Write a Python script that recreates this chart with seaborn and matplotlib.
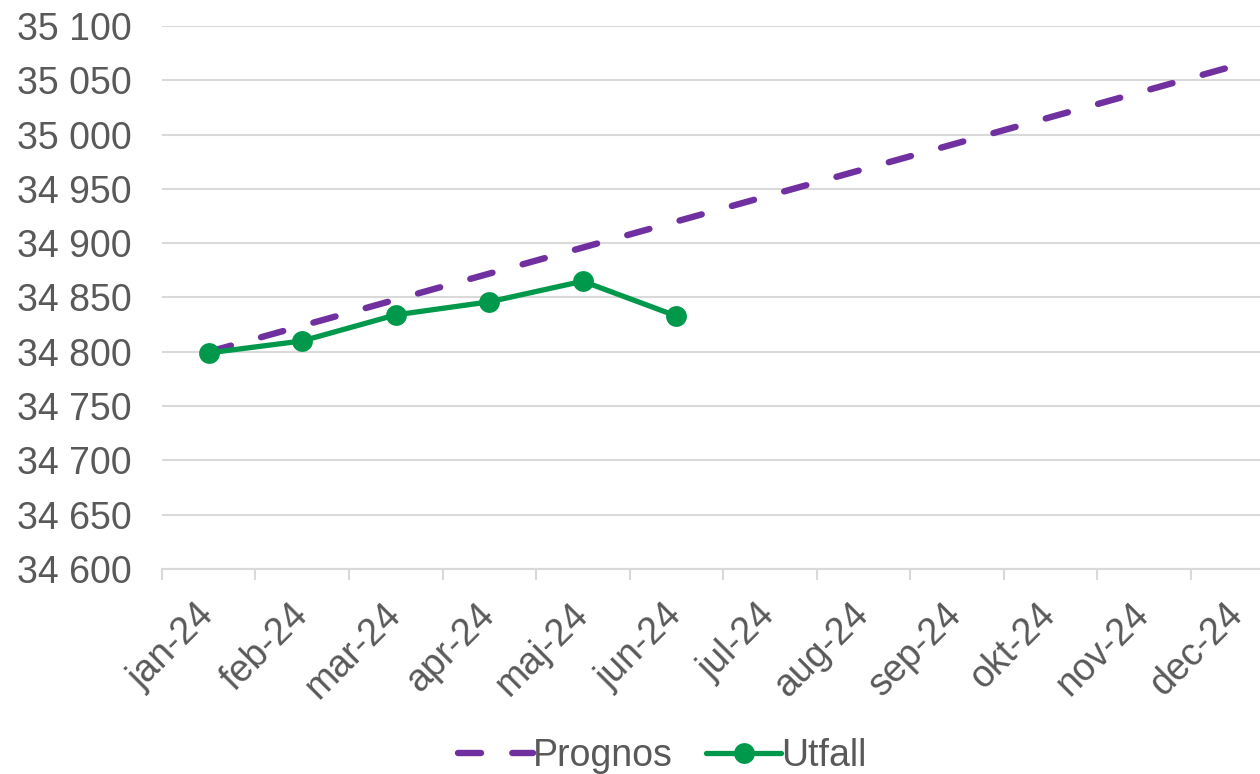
import pandas as pd
import seaborn as sns
import matplotlib.pyplot as plt
from matplotlib.ticker import FuncFormatter, FixedLocator

# Data
months = ["jan-24", "feb-24", "mar-24", "apr-24", "maj-24", "jun-24",
          "jul-24", "aug-24", "sep-24", "okt-24", "nov-24", "dec-24"]
prognos = [34800, 34824, 34848, 34872, 34896, 34920,
           34944, 34968, 34992, 35016, 35040, 35064]
utfall_months = months[:6]
utfall = [34799, 34810, 34834, 34846, 34865, 34833]

df_prog = pd.DataFrame({"month": months, "value": prognos})
df_utf = pd.DataFrame({"month": utfall_months, "value": utfall})

sns.set_style("white")
plt.rcParams["font.family"] = ["Liberation Sans", "DejaVu Sans"]

text_col = "#595959"
grid_col = "#d9d9d9"
purple = "#7030a0"
green = "#00994c"

fig = plt.figure(figsize=(12.6, 7.74), dpi=100)
ax = fig.add_axes([162 / 1260, 1 - 569 / 774, (1284 - 162) / 1260, (569 - 26) / 774])

sns.lineplot(data=df_prog, x="month", y="value", ax=ax, color=purple,
             linewidth=4.6, linestyle=(0, (3.6, 4.9)), dash_capstyle="round",
             label="Prognos", sort=False, zorder=3)
sns.lineplot(data=df_utf, x="month", y="value", ax=ax, color=green,
             linewidth=3.8, marker="o", markersize=15, markeredgewidth=0,
             solid_capstyle="round", label="Utfall", sort=False, zorder=4)

ax.set_xlim(-0.5, 11.5)
ax.set_ylim(34600, 35100)
ax.set_yticks(range(34600, 35101, 50))
ax.yaxis.set_major_formatter(FuncFormatter(lambda v, p: f"{v:,.0f}".replace(",", " ")))
ax.grid(axis="y", color=grid_col, linewidth=1.5)
ax.set_axisbelow(True)

for s in ["top", "right", "left"]:
    ax.spines[s].set_visible(False)
ax.spines["bottom"].set_color(grid_col)
ax.spines["bottom"].set_linewidth(1.5)

ax.set_xticks(range(len(months)))
ax.set_xticklabels(months, rotation=45, ha="right", va="center",
                   rotation_mode="anchor")
ax.xaxis.set_minor_locator(FixedLocator([i - 0.5 for i in range(len(months) + 1)]))
ax.tick_params(axis="x", which="major", bottom=True, length=0, pad=29,
               labelsize=27, labelcolor=text_col)
ax.tick_params(axis="x", which="minor", bottom=True, length=8, width=1.5, color=grid_col)
ax.tick_params(axis="y", length=0, pad=22, labelsize=27, labelcolor=text_col)

ax.set_xlabel("")
ax.set_ylabel("")

leg = ax.legend(loc="lower center", ncol=2, frameon=False,
                fontsize=27, handlelength=2.0, handletextpad=0.0,
                columnspacing=0.9, borderaxespad=0)
leg.set_bbox_to_anchor((662 / 1260, -0.02), transform=fig.transFigure)
for t in leg.get_texts():
    t.set_color(text_col)

fig.savefig("out.png", dpi=100)
